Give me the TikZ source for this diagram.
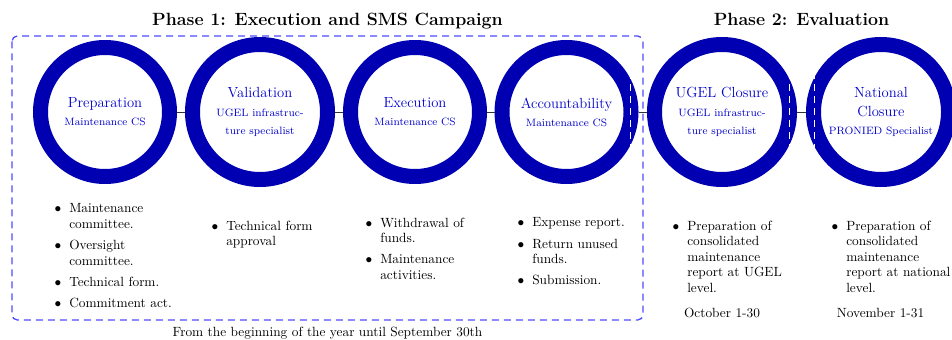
\documentclass[tikz,border=0pt]{standalone}
\definecolor{ringblue}{RGB}{0,0,178}
\definecolor{labelblue}{RGB}{0,0,204}
\definecolor{frameblue}{RGB}{77,77,255}
% bullet item with hanging indent, used inside the task lists
\newcommand\bitem[1]{\hangindent=9pt\hangafter=0\noindent\llap{$\bullet$\hspace{6pt}}#1\par}
\begin{document}
\begin{tikzpicture}[x=0.75pt,y=-0.75pt,
  stage/.style={circle, draw=ringblue, line width=11.25pt, minimum size=96.75pt,
    inner sep=0pt, align=center, text=labelblue, font=\fontsize{11}{13.6}\selectfont},
  bigstage/.style={stage, minimum size=101.25pt},
  link/.style={draw=black!80, line width=0.6pt},
  frame/.style={draw=frameblue, line width=1pt, dash pattern=on 5.25pt off 3.75pt, rounded corners=4pt},
  ghost/.style={draw=white, line width=0.6pt, dash pattern=on 5.25pt off 3.75pt},
  tasks/.style={anchor=north west, inner sep=0pt, text width=100pt, align=left,
    font=\fontsize{10}{11.6}\selectfont\setlength{\parskip}{4.3pt}},
  phase/.style={anchor=base, font=\fontsize{13.3}{16}\selectfont\bfseries},
  period/.style={anchor=base, font=\fontsize{10}{12}\selectfont}]
\useasboundingbox (0,0) rectangle (952,339);

% phase headings
\node[phase] (p1) at (327.5,26) {Phase 1: Execution and SMS Campaign};
\node[phase] (p2) at (801.5,26) {Phase 2: Evaluation};

% stages
\node[stage]    (prep) at (105,112) {Preparation\\{\fontsize{8}{13.6}\selectfont Maintenance CS}};
\node[bigstage] (val)  at (260,112) {Validation\\{\fontsize{8}{13.6}\selectfont UGEL infrastruc-}\\{\fontsize{8}{13.6}\selectfont ture specialist}};
\node[stage]    (exe)  at (415,112) {Execution\\{\fontsize{8}{13.6}\selectfont Maintenance CS}};
\node[stage]    (acc)  at (566.5,112) {Accountability\\{\fontsize{8}{13.6}\selectfont Maintenance CS}};
\node[bigstage] (ugel) at (722,112) {UGEL Closure\\{\fontsize{8}{13.6}\selectfont UGEL infrastruc-}\\{\fontsize{8}{13.6}\selectfont ture specialist}};
\node[bigstage] (nat)  at (881,112) {National\\Closure\\{\fontsize{8}{13.6}\selectfont PRONIED Specialist}};

% links between consecutive stages
\draw[link] (prep) -- (val);
\draw[link] (val) -- (exe);
\draw[link] (exe) -- (acc);
\draw[link] (acc) -- (ugel);
\draw[link] (ugel) -- (nat);

% white dashed guides over the rings
\draw[ghost] (630,36) -- (630,320);
\draw[ghost] (789,36) -- (789,320);
\draw[ghost] (814,36) -- (814,320);

% phase 1 frame
\draw[frame] (12,36) rectangle (643,320);

% task lists
\node[tasks] (l1) at (57,203.5) {\bitem{Maintenance\newline committee.}\bitem{Oversight\newline committee.}\bitem{Technical form.}\bitem{Commitment act.}};
\node[tasks] (l2) at (214,220.5) {\bitem{Technical form\newline approval}};
\node[tasks] (l3) at (368,217.5) {\bitem{Withdrawal of\newline funds.}\bitem{Maintenance\newline activities.}};
\node[tasks] (l4) at (520,217.5) {\bitem{Expense report.}\bitem{Return unused\newline funds.}\bitem{Submission.}};
\node[tasks] (l5) at (675,220.5) {\bitem{Preparation of\newline consolidated\newline maintenance\newline report at UGEL\newline level.}};
\node[tasks] (l6) at (834,220.5) {\bitem{Preparation of\newline consolidated\newline maintenance\newline report at national\newline level.}};

% periods
\node[period] (t1) at (327.5,336) {From the beginning of the year until September 30th};
\node[period] (t2) at (722,317) {October 1-30};
\node[period] (t3) at (880.5,317) {November 1-31};
\end{tikzpicture}
\end{document}
